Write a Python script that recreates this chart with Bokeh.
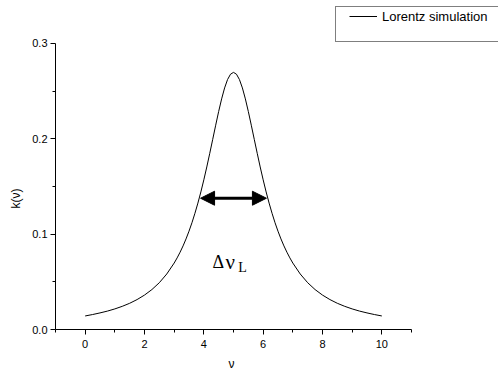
from bokeh.plotting import figure
from bokeh.models import (Range1d, FixedTicker, PrintfTickFormatter, Label,
                          Arrow, NormalHead, ColumnDataSource, Legend,
                          LegendItem, Title)
from bokeh.embed import file_html
from bokeh.resources import INLINE

# --- data ---
nu = [0.0, 0.25, 0.5, 0.75, 1.0, 1.25, 1.5, 1.75, 2.0, 2.25, 2.5, 2.75,
      3.0, 3.1, 3.2, 3.3, 3.4, 3.5, 3.6, 3.7, 3.8, 3.9,
      4.0, 4.1, 4.2, 4.3, 4.4, 4.5, 4.6, 4.7, 4.8, 4.9,
      5.0, 5.1, 5.2, 5.3, 5.4, 5.5, 5.6, 5.7, 5.8, 5.9,
      6.0, 6.1, 6.2, 6.3, 6.4, 6.5, 6.6, 6.7, 6.8, 6.9, 7.0,
      7.25, 7.5, 7.75, 8.0, 8.25, 8.5, 8.75, 9.0, 9.25, 9.5, 9.75, 10.0]
k_nu = [0.0142, 0.0157, 0.0174, 0.0193, 0.0216, 0.0243, 0.0275, 0.0314,
        0.0361, 0.0419, 0.0491, 0.0582,
        0.0697, 0.0751, 0.0811, 0.0877, 0.0950, 0.1031, 0.1120, 0.1219,
        0.1326, 0.1443,
        0.1570, 0.1705, 0.1848, 0.1995, 0.2143, 0.2287, 0.2419, 0.2534,
        0.2622, 0.2678,
        0.2697, 0.2678, 0.2622, 0.2534, 0.2419, 0.2287, 0.2143, 0.1995,
        0.1848, 0.1705,
        0.1570, 0.1443, 0.1326, 0.1219, 0.1120, 0.1031, 0.0950, 0.0877,
        0.0811, 0.0751, 0.0697,
        0.0582, 0.0491, 0.0419, 0.0361, 0.0314, 0.0275, 0.0243, 0.0216,
        0.0193, 0.0174, 0.0157, 0.0142]
x_ticks = [0, 2, 4, 6, 8, 10]
x_minor = [-1, 1, 3, 5, 7, 9, 11]
y_ticks = [0.0, 0.1, 0.2, 0.3]
y_minor = [0.05, 0.15, 0.25]
x_axis_span = (-1, 11)
y_axis_span = (0, 0.3)
fwhm_left, fwhm_right, half_max = 3.89, 6.11, 0.1377
series_name = "Lorentz simulation"
x_title = "ν"
y_title = "k(ν)"

FONT = "Liberation Sans"
NAN = float("nan")

# frame reaches the top/right canvas edges so the legend is not clipped;
# the axes themselves are bounded to the reference's axis spans
p = figure(width=498, height=377, output_backend="svg", toolbar_location=None,
           x_range=Range1d(-1, 13.933), y_range=Range1d(0, 0.3451),
           min_border_left=55, min_border_right=0, min_border_top=0,
           min_border_bottom=48)
p.outline_line_color = None
p.xgrid.visible = False
p.ygrid.visible = False
p.background_fill_color = "white"
p.border_fill_color = "white"

src = ColumnDataSource(dict(x=nu, y=k_nu))
curve = p.line("x", "y", source=src, line_color="black", line_width=1)

for ax, t, m, fmt, b in ((p.xaxis[0], x_ticks, x_minor, "%d", x_axis_span),
                         (p.yaxis[0], y_ticks, y_minor, "%.1f", y_axis_span)):
    ax.bounds = b
    ax.ticker = FixedTicker(ticks=t, minor_ticks=m)
    ax.formatter = PrintfTickFormatter(format=fmt)
    ax.axis_line_color = "black"
    ax.axis_line_width = 1
    ax.major_tick_line_color = "black"
    ax.minor_tick_line_color = "black"
    ax.major_tick_in = 0
    ax.major_tick_out = 5
    ax.minor_tick_in = 0
    ax.minor_tick_out = 3
    ax.major_label_text_font = FONT
    ax.major_label_text_font_size = "11px"
    ax.major_label_text_color = "black"
p.xaxis.major_label_standoff = 5
p.yaxis.major_label_standoff = 3

# axis titles (as panel titles so they can be placed like the reference)
yt = Title(text=y_title, align="left", offset=121, text_font=FONT,
           text_font_size="12px", text_font_style="normal",
           text_color="black", standoff=13)
p.add_layout(yt, "left")
xt = Title(text=x_title, align="left", offset=173, text_font=FONT,
           text_font_size="12px", text_font_style="normal",
           text_color="black", standoff=9)
p.add_layout(xt, "below")

# FWHM arrow
p.add_layout(Arrow(x_start=fwhm_left, y_start=half_max, x_end=fwhm_right,
                   y_end=half_max, line_width=3, line_color="black",
                   start=NormalHead(size=14, fill_color="black",
                                    line_color="black"),
                   end=NormalHead(size=14, fill_color="black",
                                  line_color="black")))
p.add_layout(Label(x=4.29, y=0.0703, text="Δ", text_align="left",
                   text_baseline="alphabetic", text_font="Liberation Serif",
                   text_font_size="18px", text_color="black"))
p.add_layout(Label(x=4.73, y=0.0703, text="ν", text_align="left",
                   text_baseline="alphabetic", text_font="Liberation Serif",
                   text_font_size="21px", text_color="black"))
p.add_layout(Label(x=5.16, y=0.0650, text="L", text_align="left",
                   text_baseline="alphabetic", text_font="Liberation Serif",
                   text_font_size="14px", text_color="black"))

# legend
sample_src = ColumnDataSource(dict(x=[NAN], y=[NAN]))
sample = p.line("x", "y", source=sample_src, line_color="black",
                line_width=1, line_dash="28 100", line_dash_offset=116)
blank = p.line("x", "y", source=sample_src, line_alpha=0)
legend = Legend(items=[LegendItem(label=series_name, renderers=[sample]),
                       LegendItem(label=" ", renderers=[blank])],
                location=(280, 287), padding=1, spacing=0, margin=0,
                glyph_width=40, glyph_height=16, label_height=16,
                label_width=200, label_standoff=5,
                label_text_font=FONT, label_text_font_size="13px",
                label_text_color="black", border_line_color="black",
                border_line_width=1, background_fill_color="white",
                background_fill_alpha=1)
p.add_layout(legend, "center")

open("out.html", "w").write(file_html(p, INLINE))
